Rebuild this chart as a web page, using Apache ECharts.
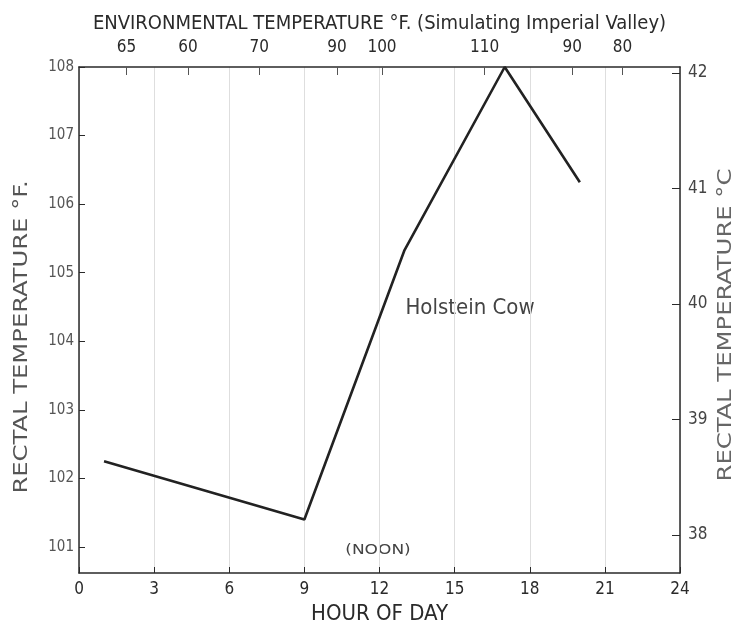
<!DOCTYPE html>
<html>
<head>
<meta charset="utf-8">
<script src="https://cdn.jsdelivr.net/npm/echarts@6/dist/echarts.min.js"></script>
<style>
  html, body { margin: 0; padding: 0; background: #fff; }
  #chart { width: 736px; height: 633px; }
</style>
</head>
<body>
<div id="chart"></div>
<script>
// Rectal temperature of a Holstein cow over the day
const hours = [1, 9, 13, 17, 20];
const rectalF = [102.25, 101.4, 105.33, 108.0, 106.32];

// Environmental temperature readings along the top edge
const envHours = [1.9, 4.35, 7.2, 10.3, 12.1, 16.2, 19.7, 21.7];
const envTemps = [65, 60, 70, 90, 100, 110, 90, 80];

// Axis tick labels
const hourTicks = [0, 3, 6, 9, 12, 15, 18, 21, 24];
const fTicks = [101, 102, 103, 104, 105, 106, 107, 108];
const cTicks = [38, 39, 40, 41, 42];

const FONT = '"DejaVu Sans Condensed", "Liberation Sans Narrow", sans-serif';
const INK = '#2a2a2a';

const chart = echarts.init(document.getElementById('chart'), null, { renderer: 'canvas' });

chart.setOption({
  backgroundColor: '#ffffff',
  animation: false,
  grid: { left: 79, right: 56, top: 67, bottom: 60, outerBoundsMode: 'none', containLabel: false },
  xAxis: [
    {
      type: 'value', min: 0, max: 24, position: 'bottom',
      axisLine: { show: true, onZero: false, lineStyle: { color: INK, width: 1.5 } },
      axisTick: { show: true, inside: true, length: 6, customValues: hourTicks, lineStyle: { color: INK } },
      axisLabel: { customValues: hourTicks, margin: 8, color: INK, fontFamily: FONT, fontSize: 17 },
      splitLine: { show: true, lineStyle: { color: '#dedede', width: 1 } },
      name: 'HOUR OF DAY', nameLocation: 'middle', nameGap: 30,
      nameTextStyle: { color: INK, fontFamily: FONT, fontSize: 22 }
    },
    {
      type: 'value', min: 0, max: 24, position: 'top',
      axisLine: { show: true, onZero: false, lineStyle: { color: INK, width: 1.5 } },
      axisTick: { show: true, inside: true, length: 8, customValues: envHours, lineStyle: { color: '#555' } },
      axisLabel: {
        customValues: envHours, margin: 11, color: INK, fontFamily: FONT, fontSize: 17,
        formatter: function (v) {
          let best = 0;
          envHours.forEach(function (h, i) { if (Math.abs(h - v) < Math.abs(envHours[best] - v)) best = i; });
          return String(envTemps[best]);
        }
      },
      splitLine: { show: false },
      name: 'ENVIRONMENTAL TEMPERATURE °F. (Simulating Imperial Valley)', nameLocation: 'middle', nameGap: 33,
      nameTextStyle: { color: INK, fontFamily: FONT, fontSize: 20 }
    }
  ],
  yAxis: [
    {
      type: 'value', min: 100.62, max: 108.0, position: 'left',
      axisLine: { show: true, onZero: false, lineStyle: { color: INK, width: 1.5 } },
      axisTick: { show: true, inside: true, length: 6, customValues: fTicks, lineStyle: { color: INK } },
      axisLabel: { customValues: fTicks, margin: 5, color: '#555', fontFamily: FONT, fontSize: 15 },
      splitLine: { show: false }
    },
    {
      type: 'value', min: 37.67, max: 42.05, position: 'right',
      axisLine: { show: true, onZero: false, lineStyle: { color: INK, width: 1.5 } },
      axisTick: { show: true, inside: true, length: 8, customValues: cTicks, lineStyle: { color: INK } },
      axisLabel: { customValues: cTicks, margin: 8, color: '#444', fontFamily: FONT, fontSize: 17 },
      splitLine: { show: false }
    }
  ],
  graphic: [
    {
      type: 'text', x: 22, y: 337, rotation: Math.PI / 2, scaleX: 1.35,
      style: { text: 'RECTAL TEMPERATURE °F.', fill: '#555', font: '20px ' + FONT, align: 'center', verticalAlign: 'middle' }
    },
    {
      type: 'text', x: 726, y: 325, rotation: Math.PI / 2, scaleX: 1.35,
      style: { text: 'RECTAL TEMPERATURE °C', fill: '#666', font: '20px ' + FONT, align: 'center', verticalAlign: 'middle' }
    },
    {
      type: 'text', x: 470, y: 308,
      style: { text: 'Holstein Cow', fill: '#444', font: '22px ' + FONT, align: 'center', verticalAlign: 'middle' }
    },
    {
      type: 'text', x: 378, y: 550, scaleX: 1.35,
      style: { text: '(NOON)', fill: '#444', font: '14px ' + FONT, align: 'center', verticalAlign: 'middle' }
    }
  ],
  series: [
    {
      type: 'line',
      xAxisIndex: 0, yAxisIndex: 0,
      data: hours.map(function (h, i) { return [h, rectalF[i]]; }),
      symbol: 'none',
      lineStyle: { color: '#222', width: 2.6 },
      z: 5
    }
  ]
});
</script>
</body>
</html>
